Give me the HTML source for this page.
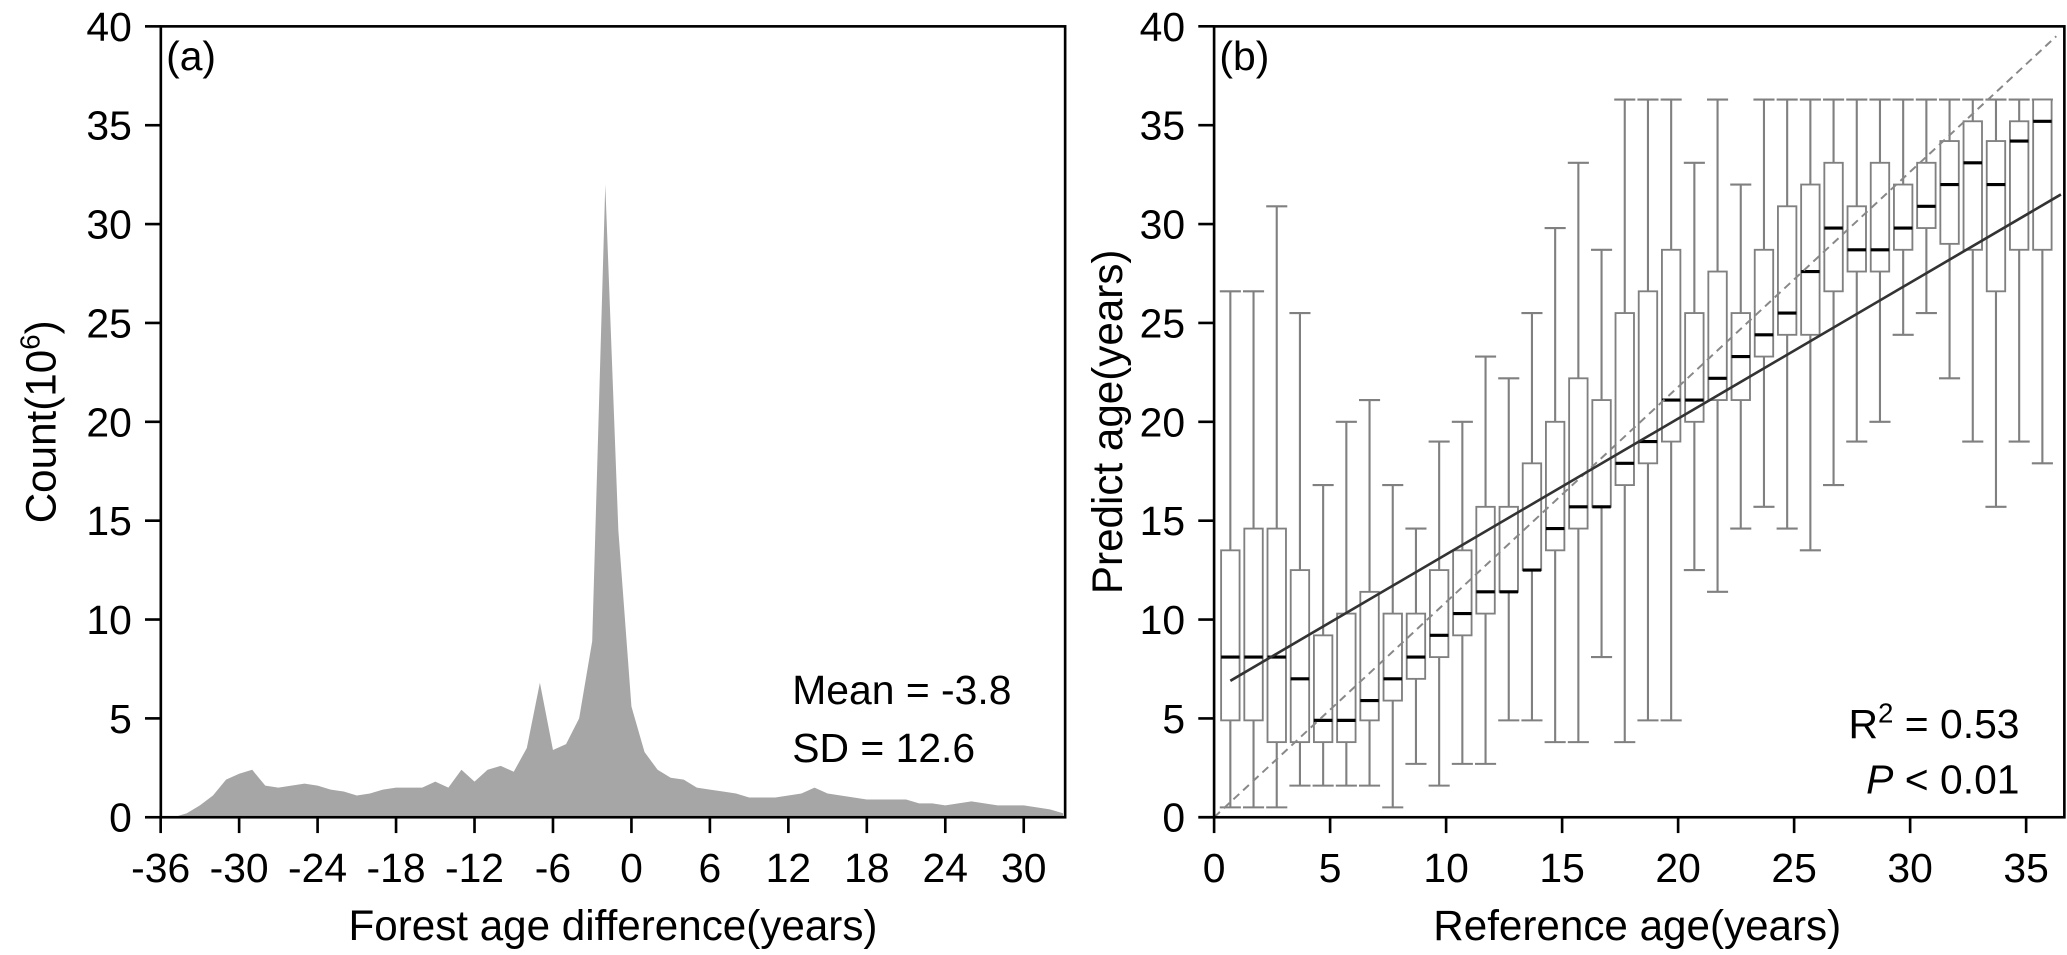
<!DOCTYPE html>
<html><head><meta charset="utf-8"><style>
html,body{margin:0;padding:0;background:#fff;}
svg{display:block;font-family:"Liberation Sans",Arial,sans-serif;}
</style></head><body>
<svg id="chart" width="2067" height="955" viewBox="0 0 1568 724.5" preserveAspectRatio="none" xmlns="http://www.w3.org/2000/svg"></svg>
<script>
// ---- Panel (a) data ----
const histDiff = [-35,-34,-33,-32,-31,-30,-29,-28,-27,-26,-25,-24,-23,-22,-21,-20,-19,-18,-17,-16,-15,-14,-13,-12,-11,-10,-9,-8,-7,-6,-5,-4,-3,-2,-1,0,1,2,3,4,5,6,7,8,9,10,11,12,13,14,15,16,17,18,19,20,21,22,23,24,25,26,27,28,29,30,31,32,33];
const histCount = [0,0.2,0.6,1.1,1.9,2.2,2.4,1.6,1.5,1.6,1.7,1.6,1.4,1.3,1.1,1.2,1.4,1.5,1.5,1.5,1.8,1.5,2.4,1.8,2.4,2.6,2.3,3.5,6.8,3.4,3.7,5.0,8.9,32,14.5,5.6,3.3,2.4,2.0,1.9,1.5,1.4,1.3,1.2,1.0,1.0,1.0,1.1,1.2,1.5,1.2,1.1,1.0,0.9,0.9,0.9,0.9,0.7,0.7,0.6,0.7,0.8,0.7,0.6,0.6,0.6,0.5,0.4,0.2];
const aXTicks = [-36,-30,-24,-18,-12,-6,0,6,12,18,24,30];
const aYTicks = [0,5,10,15,20,25,30,35,40];
// ---- Panel (b) data ----
const refAge = [0.7,1.7,2.7,3.7,4.7,5.7,6.7,7.7,8.7,9.7,10.7,11.7,12.7,13.7,14.7,15.7,16.7,17.7,18.7,19.7,20.7,21.7,22.7,23.7,24.7,25.7,26.7,27.7,28.7,29.7,30.7,31.7,32.7,33.7,34.7,35.7];
const boxHigh = [26.6,26.6,30.9,25.5,16.8,20.0,21.1,16.8,14.6,19.0,20.0,23.3,22.2,25.5,29.8,33.1,28.7,36.3,36.3,36.3,33.1,36.3,32.0,36.3,36.3,36.3,36.3,36.3,36.3,36.3,36.3,36.3,36.3,36.3,36.3,36.3];
const boxQ3 = [13.5,14.6,14.6,12.5,9.2,10.3,11.4,10.3,10.3,12.5,13.5,15.7,15.7,17.9,20.0,22.2,21.1,25.5,26.6,28.7,25.5,27.6,25.5,28.7,30.9,32.0,33.1,30.9,33.1,32.0,33.1,34.2,35.2,34.2,35.2,36.3];
const boxMed = [8.1,8.1,8.1,7.0,4.9,4.9,5.9,7.0,8.1,9.2,10.3,11.4,11.4,12.5,14.6,15.7,15.7,17.9,19.0,21.1,21.1,22.2,23.3,24.4,25.5,27.6,29.8,28.7,28.7,29.8,30.9,32.0,33.1,32.0,34.2,35.2];
const boxQ1 = [4.9,4.9,3.8,3.8,3.8,3.8,4.9,5.9,7.0,8.1,9.2,10.3,11.4,12.5,13.5,14.6,15.7,16.8,17.9,19.0,20.0,21.1,21.1,23.3,24.4,24.4,26.6,27.6,27.6,28.7,29.8,29.0,28.7,26.6,28.7,28.7];
const boxLow = [0.5,0.5,0.5,1.6,1.6,1.6,1.6,0.5,2.7,1.6,2.7,2.7,4.9,4.9,3.8,3.8,8.1,3.8,4.9,4.9,12.5,11.4,14.6,15.7,14.6,13.5,16.8,19.0,20.0,24.4,25.5,22.2,19.0,15.7,19.0,17.9];
const fitLine = [[0.7,6.9],[36.5,31.5]];
const oneToOne = [[0,0],[36.3,39.5]];
const bXTicks = [0,5,10,15,20,25,30,35];
const bYTicks = [0,5,10,15,20,25,30,35,40];

const NS = "http://www.w3.org/2000/svg";
const svg = document.getElementById('chart');
function mk(tag, attrs, parent){ const e=document.createElementNS(NS,tag); for(const k in attrs) e.setAttribute(k,attrs[k]); (parent||svg).appendChild(e); return e; }

const aL=122,aR=808,aT=20,aB=620;
const ax = v => 479 + v*9.92;
const ay = v => aB - v*15;
const bL=921,bR=1566;
const bx = v => bL + v*17.6;
const by = v => aB - v*15;

// ---------- Panel a ----------
const ga = mk('g',{});


let d = 'M'+ax(histDiff[0])+','+ay(0);
histDiff.forEach((v,i)=>{ d += ' L'+ax(v)+','+ay(histCount[i]); });
d += ' L'+ax(histDiff[histDiff.length-1])+','+ay(0)+' Z';
const area = mk('path',{d:d,fill:'#a6a6a6',stroke:'none'},ga);


const fa = mk('rect',{x:aL,y:aT,width:aR-aL,height:aB-aT,fill:'none',stroke:'#000','stroke-width':2},ga);


aYTicks.forEach(v=>{
  mk('line',{x1:aL-12,x2:aL,y1:ay(v),y2:ay(v),stroke:'#000','stroke-width':2},ga);
  const t=mk('text',{x:aL-22,y:ay(v)+11,'font-size':31,'text-anchor':'end'},ga); t.textContent=v;
  
  
});
aXTicks.forEach(v=>{
  mk('line',{x1:ax(v),x2:ax(v),y1:aB,y2:aB+12,stroke:'#000','stroke-width':2},ga);
  const t=mk('text',{x:ax(v),y:aB+49,'font-size':31,'text-anchor':'middle'},ga); t.textContent=v;
  
  
});
let t;
t=mk('text',{x:126,y:53,'font-size':31},ga); t.textContent='(a)';


t=mk('text',{x:465,y:713,'font-size':32,'text-anchor':'middle'},ga); t.textContent='Forest age difference(years)';


t=mk('text',{x:0,y:0,'font-size':32,'text-anchor':'middle',transform:'translate(42,320) rotate(-90)'},ga);
t.innerHTML='Count(10<tspan dy="-12" font-size="21">6</tspan><tspan dy="12">)</tspan>';


t=mk('text',{x:601,y:534,'font-size':31},ga); t.textContent='Mean = -3.8';


t=mk('text',{x:601,y:578,'font-size':31},ga); t.textContent='SD = 12.6';



// ---------- Panel b ----------
const gb = mk('g',{});


const bw=12;
refAge.forEach((r,i)=>{
  const g=mk('g',{},gb);
  
  
  const cx=bx(r);
  const c='#808080';
  mk('line',{x1:cx,x2:cx,y1:by(boxHigh[i]),y2:by(boxQ3[i]),stroke:c,'stroke-width':1.6},g);
  mk('line',{x1:cx,x2:cx,y1:by(boxQ1[i]),y2:by(boxLow[i]),stroke:c,'stroke-width':1.6},g);
  mk('line',{x1:cx-8,x2:cx+8,y1:by(boxHigh[i]),y2:by(boxHigh[i]),stroke:c,'stroke-width':1.6},g);
  mk('line',{x1:cx-8,x2:cx+8,y1:by(boxLow[i]),y2:by(boxLow[i]),stroke:c,'stroke-width':1.6},g);
  mk('rect',{x:cx-bw/2-1,y:by(boxQ3[i]),width:bw+2,height:Math.max(0.5,by(boxQ1[i])-by(boxQ3[i])),fill:'#fff',stroke:c,'stroke-width':1.4},g);
  mk('line',{x1:cx-bw/2-1,x2:cx+bw/2+1,y1:by(boxMed[i]),y2:by(boxMed[i]),stroke:'#000','stroke-width':2.4},g);
});
const dl=mk('line',{x1:bx(oneToOne[0][0]),y1:by(oneToOne[0][1]),x2:bx(oneToOne[1][0]),y2:by(oneToOne[1][1]),stroke:'#888','stroke-width':1.5,'stroke-dasharray':'6,4'},gb);


const fl=mk('line',{x1:bx(fitLine[0][0]),y1:by(fitLine[0][1]),x2:bx(fitLine[1][0]),y2:by(fitLine[1][1]),stroke:'#333','stroke-width':2},gb);


const fb=mk('rect',{x:bL,y:aT,width:bR-bL,height:aB-aT,fill:'none',stroke:'#000','stroke-width':2},gb);


bYTicks.forEach(v=>{
  mk('line',{x1:bL-12,x2:bL,y1:by(v),y2:by(v),stroke:'#000','stroke-width':2},gb);
  const t=mk('text',{x:bL-22,y:by(v)+11,'font-size':31,'text-anchor':'end'},gb); t.textContent=v;
  
  
});
bXTicks.forEach(v=>{
  mk('line',{x1:bx(v),x2:bx(v),y1:aB,y2:aB+12,stroke:'#000','stroke-width':2},gb);
  const t=mk('text',{x:bx(v),y:aB+49,'font-size':31,'text-anchor':'middle'},gb); t.textContent=v;
  
  
});
t=mk('text',{x:925,y:53,'font-size':31},gb); t.textContent='(b)';


t=mk('text',{x:1242,y:713,'font-size':32,'text-anchor':'middle'},gb); t.textContent='Reference age(years)';


t=mk('text',{x:0,y:0,'font-size':32,'text-anchor':'middle',transform:'translate(851,320) rotate(-90)'},gb); t.textContent='Predict age(years)';


t=mk('text',{x:1532,y:560,'font-size':31,'text-anchor':'end'},gb);
t.innerHTML='R<tspan dy="-12" font-size="21">2</tspan><tspan dy="12"> = 0.53</tspan>';


t=mk('text',{x:1532,y:602,'font-size':31,'text-anchor':'end'},gb);
t.innerHTML='<tspan font-style="italic">P</tspan> &lt; 0.01';


</script>
</body></html>
